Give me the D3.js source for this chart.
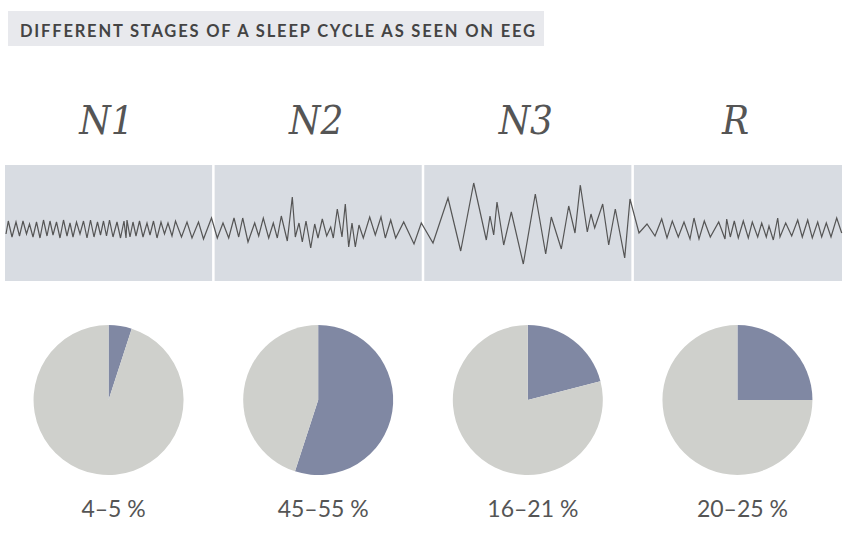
<!DOCTYPE html>
<html>
<head>
<meta charset="utf-8">
<script src="https://cdn.jsdelivr.net/npm/d3@7"></script>
<style>
  body { margin: 0; background: #fff; }
</style>
</head>
<body>
<div id="chart-area"></div>
<script>
const title = "DIFFERENT STAGES OF A SLEEP CYCLE AS SEEN ON EEG";
const stages = ["N1", "N2", "N3", "R"];
const shares = [5, 55, 21, 25];
const shareLabels = ["4–5 %", "45–55 %", "16–21 %", "20–25 %"];

// eeg trace, [time (s), amplitude (µV)], one array per stage
const n1Wave = [[0.1, -5], [0.33, 8], [0.7, -8], [1.1, 7], [1.45, -7], [1.8, 8], [2.15, -5], [2.45, 5],
    [2.8, -8], [3.15, 7], [3.5, -9], [3.85, 9], [4.2, -7], [4.5, 8], [4.8, -6], [5.15, 7], [5.5, -9],
    [5.85, 9], [6.2, -7], [6.5, 6], [6.8, -8], [7.15, 7], [7.5, -5], [7.85, 8], [8.2, -9], [8.55, 9],
    [8.9, -8], [9.25, 7], [9.55, -6], [9.85, 8], [10.15, -7], [10.45, 9], [10.8, -8], [11.2, 7],
    [11.55, -9], [11.9, 8], [12.1, -9], [12.2, 9], [12.5, -8], [12.8, 7], [13.1, -7], [13.45, 8],
    [13.8, -8], [14.2, 6], [14.5, -6], [14.85, 8], [15.2, -9], [15.6, 7], [15.95, -5], [16.3, 6],
    [16.7, -7], [17.05, 8], [17.65, -8], [18.2, 7], [18.7, -9], [19.35, 7], [19.85, -10], [20.65, 11]];
const n2Wave = [[21.23, -9], [21.8, 6], [22.37, -9], [22.9, 11], [23.37, -8], [23.77, 11], [24.3, -13],
    [24.97, 6], [25.37, -7], [25.83, 11], [26.37, -9], [26.83, 6], [27.23, -9], [27.63, 13], [28.23, -12],
    [28.73, 32], [29.03, -8], [29.4, 6], [29.73, -13], [30.1, 8], [30.57, -19], [30.97, 5], [31.3, -9],
    [31.73, 10], [32.17, -7], [32.57, 2], [32.83, -9], [33.23, 20], [33.7, -8], [34.03, 25], [34.37, -18],
    [34.7, 6], [35.03, -18], [35.4, 4], [35.83, -9], [36.47, 12], [37.03, -6], [37.6, 12], [38.03, -9],
    [38.57, 9], [39.07, -9], [39.87, 7], [40.9, -15], [41.63, 6]];
const n3Wave = [[42.8, -14], [44.3, 31], [45.57, -22], [46.87, 46], [48.13, -11], [48.5, 13], [48.87, -6],
    [49.2, 27], [49.87, -16], [50.63, 17], [51.83, -35], [53.03, 35], [54.07, -25], [54.63, 12],
    [55.63, -20], [56.37, 23], [57, -4], [57.53, 44], [58.23, -3], [58.6, 15], [58.97, 1], [59.77, 25],
    [60.37, -16], [61.03, 20], [61.97, -29], [62.5, 30]];
const rWave = [[63.4, -4], [64.2, 5], [65, -7], [65.67, 10], [66.2, -9], [66.73, 8], [67.33, -8], [67.9, 7],
    [68.5, -10], [68.9, 11], [69.4, -10], [69.93, 8], [70.53, -8], [71.37, 7], [72, -10], [72.17, 10],
    [72.53, -8], [72.93, 8], [73.33, -9], [73.83, 8], [74.33, -9], [74.73, 7], [75.27, -8], [75.67, 6],
    [76.13, -8], [76.4, 3], [76.83, -11], [77.27, 11], [77.5, -8], [78.07, 6], [78.67, -7], [79.27, 9],
    [79.73, -8], [80.27, 9], [80.73, -9], [81.27, 7], [81.67, -8], [82.13, 6], [82.6, -8], [83.17, 11],
    [83.67, -4]];

let svg = d3.select("#chart-area")
    .append("svg")
    .attr("width", 850)
    .attr("height", 535);

// title box
svg.append("rect")
    .attr("x", 8)
    .attr("y", 11)
    .attr("width", 536)
    .attr("height", 35)
    .attr("fill", "#e8e9ed");

svg.append("text")
    .attr("x", 20)
    .attr("y", 36.5)
    .attr("textLength", 515)
    .attr("lengthAdjust", "spacing")
    .attr("font-family", "Lato, 'Open Sans', sans-serif")
    .attr("font-weight", "bold")
    .attr("font-size", 16.5)
    .attr("fill", "#444")
    .text(title);

let x = d3.scaleBand()
    .domain(stages)
    .range([5, 841])
    .paddingInner(0.012);

let t = d3.scaleLinear()
    .domain([0, 83.7])
    .range([5, 842]);

let y = d3.scaleLinear()
    .domain([-60, 60])
    .range([289, 169]);

// stage headings
svg.selectAll(".stage")
    .data(stages)
    .enter().append("text")
    .attr("class", "stage")
    .attr("x", (d) => x(d) + x.bandwidth() / 2 - 2)
    .attr("y", 134)
    .attr("text-anchor", "middle")
    .attr("font-family", "'DejaVu Serif Condensed', 'DejaVu Serif', serif")
    .attr("font-style", "italic")
    .attr("font-size", 40)
    .attr("fill", "#555")
    .text((d) => d);

// eeg panels
svg.selectAll(".panel")
    .data(stages)
    .enter().append("rect")
    .attr("class", "panel")
    .attr("x", (d) => x(d))
    .attr("y", 165)
    .attr("width", (d, i) => i === stages.length - 1 ? 842 - x(d) : x.bandwidth())
    .attr("height", 116)
    .attr("fill", "#d8dce2");

let line = d3.line()
    .x((d) => t(d[0]))
    .y((d) => y(d[1]));

svg.append("path")
    .datum(n1Wave.concat(n2Wave, n3Wave, rWave))
    .attr("d", line)
    .attr("fill", "none")
    .attr("stroke", "#555")
    .attr("stroke-width", 1.2)
    .attr("stroke-linejoin", "miter");

// pies
let pie = d3.pie().sort(null);
let arc = d3.arc().innerRadius(0).outerRadius(75);

stages.forEach(function (s, i) {
    let g = svg.append("g")
        .attr("transform", "translate(" + (x(s) + x.bandwidth() / 2) + ",400)");

    g.selectAll("path")
        .data(pie([shares[i], 100 - shares[i]]))
        .enter().append("path")
        .attr("d", arc)
        .attr("fill", (d, j) => j === 0 ? "#8088a3" : "#cfd0cc");

    g.append("text")
        .attr("x", 5)
        .attr("y", 117)
        .attr("text-anchor", "middle")
        .attr("font-family", "Lato, 'Open Sans', sans-serif")
        .attr("font-size", 23)
        .attr("fill", "#555")
        .text(shareLabels[i]);
});
</script>
</body>
</html>
